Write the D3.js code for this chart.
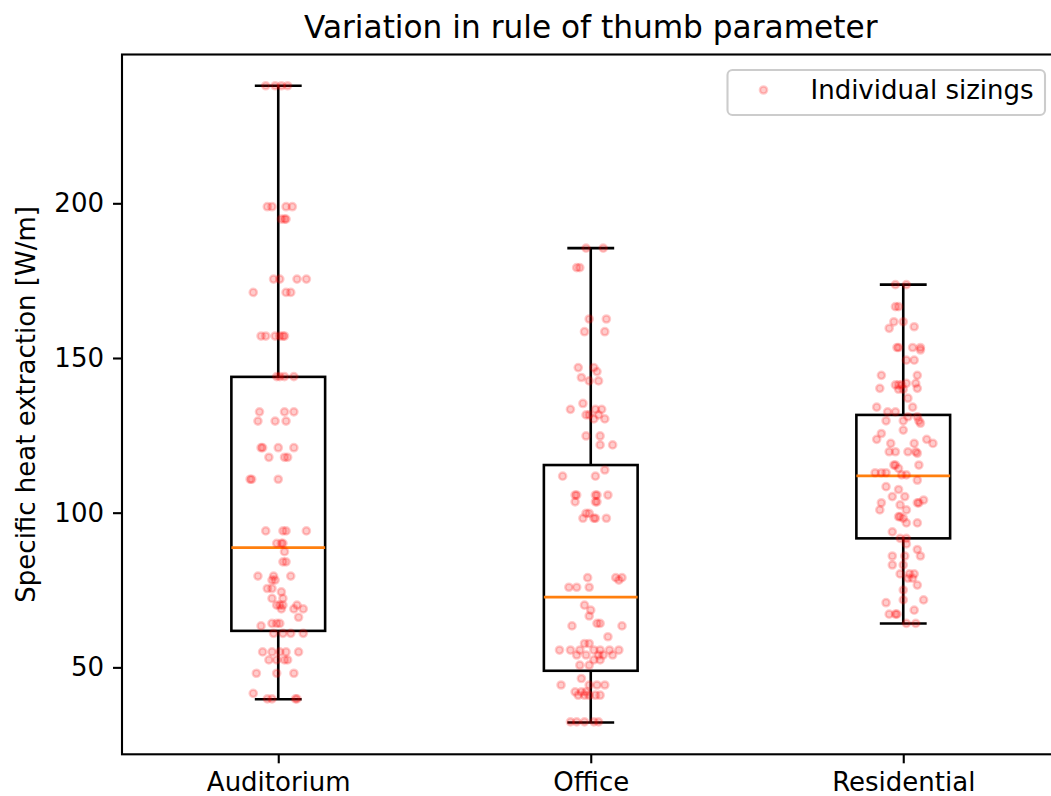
<!DOCTYPE html>
<html>
<head>
<meta charset="utf-8">
<script src="https://cdn.jsdelivr.net/npm/d3@7"></script>
<style>
  body { margin: 0; background: #fff; }
  text { font-family: "DejaVu Sans", sans-serif; fill: #000; }
</style>
</head>
<body>
<div id="graph"></div>
<script>
var svgWidth = 1051;
var svgHeight = 796;

var categories = ["Auditorium", "Office", "Residential"];
var yTicks = [50, 100, 150, 200];

// box stats: [whiskerLow, q1, median, q3, whiskerHigh]
var auditoriumBox = [39.7, 61.8, 88.7, 143.9, 238.0];
var officeBox = [32.2, 48.9, 72.7, 115.4, 185.5];
var residentialBox = [64.2, 91.7, 111.9, 131.6, 173.7];

// individual sizings: [value, horizontal jitter in category units]
var auditoriumPts = [
  [238,-0.04],[238,-0.01],[238,0.01],[238,0.03],
  [198.9,-0.035],[198.9,-0.02],[198.9,0.025],[198.9,0.045],
  [194.9,0.01],[194.9,0.02],[194.9,0.025],
  [175.5,-0.015],[175.5,0.005],[175.5,0.06],[175.5,0.09],
  [171.2,-0.08],[171.2,0.025],[171.2,0.04],
  [157.1,-0.055],[157.1,-0.04],[157.1,-0.01],[157.1,0.005],[157.1,0.015],[157.1,0.02],
  [144,-0.005],[144,0.005],[144,0.02],[144,0.05],
  [132.6,-0.06],[132.6,0.02],[132.6,0.05],
  [129.6,-0.065],[129.6,-0.01],[129.6,0.025],
  [121,-0.055],[121,-0.05],[121,0],[121,0.05],
  [117.9,-0.03],[117.9,0.02],[117.9,0.03],
  [110.8,-0.09],[110.8,-0.085],[110.8,0],
  [94.1,-0.04],[94.1,0.015],[94.1,0.025],[94.1,0.09],
  [90.1,-0.005],[90.1,0.01],[90.1,0.015],
  [87.4,0.02],[84.1,0.015],[84.1,0.025],
  [79.5,-0.065],[79.5,-0.015],[79.5,0.04],
  [78.2,-0.02],[78.2,-0.01],[75.5,-0.035],[75.5,-0.02],[74.4,0.01],
  [72.3,-0.02],[72.3,0.015],
  [70.1,-0.005],[70.1,0.005],[70.1,0.015],[70.1,0.06],
  [68.9,0.01],[68.9,0.05],[68.9,0.08],[66.2,0.065],
  [64.2,-0.02],[64.2,-0.005],[64.2,0.005],[63.4,-0.055],
  [61,-0.015],[61,0.015],[61,0.04],[61,0.08],
  [55,-0.05],[55,-0.02],[55,0.005],[55,0.025],[55,0.065],
  [52.4,-0.03],[52.4,-0.005],[52.4,0.02],[52.4,0.03],
  [48.1,-0.07],[48.1,-0.005],[48.1,0.05],[41.6,-0.08],
  [39.8,-0.035],[39.8,-0.02],[39.8,0.055],[39.8,0.06]
];

var officePts = [
  [185.5,-0.015],[185.5,0.04],
  [179.2,-0.045],[179.2,-0.035],
  [162.6,-0.005],[162.6,0.05],
  [158.5,-0.02],[158.5,0.045],
  [146.9,-0.04],[146.9,0.01],[145.6,0.02],[143.7,-0.03],
  [142.6,-0.005],[142.6,0.025],
  [135.3,-0.025],[133.4,-0.065],[133.4,0.015],[133.4,0.035],
  [131.6,-0.015],[131.6,-0.005],[131.6,0.025],
  [130.3,0.01],[130.3,0.045],
  [124.8,-0.015],[124.8,0.03],
  [121.9,0.03],[121.9,0.07],
  [113.8,0.045],[111.8,-0.09],[111.8,0.015],
  [105.7,-0.05],[105.7,-0.045],[105.7,0.015],[105.7,0.02],[105.7,0.055],
  [103.5,-0.05],[103.5,0.015],[103.5,0.02],
  [99.8,-0.015],[99.8,-0.005],
  [98.2,-0.025],[98.2,0.01],[98.2,0.015],[98.2,0.05],
  [79,-0.01],[79,0.08],[79,0.1],[78.2,0.09],
  [75.9,-0.07],[75.9,-0.045],[75.9,-0.005],
  [70.1,-0.02],[68.5,0],[66.6,-0.005],
  [64.2,0.02],[64.2,0.03],[63.4,-0.06],[63.4,0.1],
  [59.9,0.055],[57.7,-0.02],[57.7,-0.005],
  [55.6,-0.1],[55.6,-0.065],[55.6,-0.035],[55.6,0.01],[55.6,0.03],[55.6,0.06],[55.6,0.09],
  [54,-0.045],[54,-0.015],[54,0.025],[54,0.04],[54,0.07],
  [52.4,0.01],[52.4,0.03],[50.7,-0.035],[50.7,-0.005],
  [46.4,-0.03],
  [44.3,-0.095],[44.3,-0.005],[44.3,0.02],[44.3,0.045],
  [42.1,-0.05],[42.1,-0.03],[42.1,-0.015],
  [41,-0.04],[41,-0.02],[41,-0.005],[41,0.015],[41,0.03],
  [32.4,-0.065],[32.4,-0.045],[32.4,-0.02],[32.4,0.01],[32.4,0.025]
];

var residentialPts = [
  [173.7,-0.025],[173.7,0.01],
  [166.6,-0.025],[166.6,-0.015],
  [161.7,-0.03],[161.7,0],[160.1,0.035],[159.6,-0.045],
  [153.4,-0.02],[153.4,-0.015],[153.4,0.03],[153.4,0.055],[152.6,0.055],
  [149.3,0.01],[149.3,0.035],
  [144.4,-0.07],[144.4,0.045],
  [141.8,0.01],[141.8,0.04],
  [141.3,-0.025],[141.3,-0.015],[141.3,-0.005],
  [140.2,-0.075],[140.2,0.045],[139.9,-0.015],[139.9,0],
  [137,0.015],[134.1,-0.085],[134.1,0.03],
  [132.6,-0.05],[132.6,-0.025],
  [131,0.015],[131,0.045],
  [129.7,-0.055],[129.7,0],[129.7,0.05],[128.9,0.055],
  [126.7,0],[125.6,-0.07],[123.7,-0.085],[123.7,0.075],
  [122.4,-0.04],[122.4,0.035],[122.4,0.095],
  [119.7,-0.045],[119.7,-0.025],[119.7,0.015],[119.7,0.04],[119.2,0.045],
  [115.4,-0.03],[115.4,-0.025],[115.4,0.05],[114.3,-0.015],
  [112.9,-0.09],[112.9,-0.07],[112.9,-0.055],
  [112.2,-0.005],[112.2,0.01],
  [110.5,0.045],[108.4,-0.055],[107.5,-0.015],
  [105.2,-0.035],[105.2,0.005],[104.1,0.065],
  [103.2,-0.07],[103.2,0.045],[103.2,0.05],[102.5,-0.01],
  [100.9,-0.075],[100.9,0.01],
  [98.7,-0.015],[98.7,-0.01],[98.2,0],
  [96.7,0.01],[96.7,0.045],
  [93.8,-0.035],[91.7,-0.01],[91.7,0.01],[89.9,0.01],[88.1,0.045],
  [86,-0.035],[86,0.005],[86,0.055],
  [83.1,-0.035],[83.1,0],
  [80.2,-0.01],[80.2,0.02],[80.2,0.035],
  [78.8,0.015],[78.8,0.03],[76.6,0.045],[75,0],
  [71.8,0],[71.8,0.065],[70.9,-0.055],[68.5,0.035],
  [67.2,-0.045],[67.2,-0.025],[67.2,-0.02],
  [64.2,0.01],[64.2,0.04]
];

var boxes = [auditoriumBox, officeBox, residentialBox];
var points = [auditoriumPts, officePts, residentialPts];

var margin = { top: 54.5, right: -8.5, bottom: 41.7, left: 122 };
var width = svgWidth - margin.left - margin.right;
var height = svgHeight - margin.top - margin.bottom;

var svg = d3.select("#graph")
  .append("svg")
  .attr("width", svgWidth)
  .attr("height", svgHeight);

var chartGroup = svg.append("g")
  .attr("transform", `translate(${margin.left}, ${margin.top})`);

var xScale = d3.scaleLinear().domain([0.5, 3.5]).range([0, width]);
var yScale = d3.scaleLinear().domain([21.9, 248.1]).range([height, 0]);

var lw = 2.6;
var boxHalf = 0.15, capHalf = 0.075;

// boxes + whiskers
boxes.forEach(function(b, i) {
  var pos = i + 1;
  var g = chartGroup.append("g");
  g.append("rect")
    .attr("x", xScale(pos - boxHalf))
    .attr("y", yScale(b[3]))
    .attr("width", xScale(pos + boxHalf) - xScale(pos - boxHalf))
    .attr("height", yScale(b[1]) - yScale(b[3]))
    .attr("fill", "none")
    .attr("stroke", "#000")
    .attr("stroke-width", lw);
  [[b[0], b[1]], [b[3], b[4]]].forEach(function(w) {
    g.append("line")
      .attr("x1", xScale(pos)).attr("x2", xScale(pos))
      .attr("y1", yScale(w[0])).attr("y2", yScale(w[1]))
      .attr("stroke", "#000").attr("stroke-width", lw);
  });
  [b[0], b[4]].forEach(function(c) {
    g.append("line")
      .attr("x1", xScale(pos - capHalf)).attr("x2", xScale(pos + capHalf))
      .attr("y1", yScale(c)).attr("y2", yScale(c))
      .attr("stroke", "#000").attr("stroke-width", lw);
  });
  g.append("line")
    .attr("x1", xScale(pos - boxHalf)).attr("x2", xScale(pos + boxHalf))
    .attr("y1", yScale(b[2])).attr("y2", yScale(b[2]))
    .attr("stroke", "#ff7f0e").attr("stroke-width", lw);
});

// scatter of individual sizings
points.forEach(function(pts, i) {
  chartGroup.append("g").selectAll("circle")
    .data(pts)
    .enter()
    .append("circle")
    .attr("cx", d => xScale(i + 1 + d[1]))
    .attr("cy", d => yScale(d[0]))
    .attr("r", 3.6)
    .attr("fill", "red")
    .attr("fill-opacity", 0.2)
    .attr("stroke", "red")
    .attr("stroke-opacity", 0.2)
    .attr("stroke-width", 2.5);
});

// axes
var yAxis = d3.axisLeft(yScale).tickValues(yTicks).tickSize(9).tickPadding(9);
var xAxis = d3.axisBottom(xScale).tickValues([1, 2, 3])
  .tickFormat(d => categories[d - 1]).tickSize(9).tickPadding(9);

var gy = chartGroup.append("g").call(yAxis);
var gx = chartGroup.append("g").attr("transform", `translate(0, ${height})`).call(xAxis);
[gx, gy].forEach(function(g) {
  g.select(".domain").remove();
  g.selectAll(".tick line").attr("stroke", "#000").attr("stroke-width", 2.1);
  g.selectAll(".tick text").attr("font-size", "26px").attr("font-family", "DejaVu Sans").attr("fill", "#000");
});

// spines
chartGroup.append("rect")
  .attr("x", 0).attr("y", 0)
  .attr("width", width).attr("height", height)
  .attr("fill", "none")
  .attr("stroke", "#000")
  .attr("stroke-width", 2.1);

// title & labels
svg.append("text")
  .attr("x", margin.left + width / 2)
  .attr("y", 38)
  .attr("text-anchor", "middle")
  .attr("font-size", "31.2px")
  .text("Variation in rule of thumb parameter");

svg.append("text")
  .attr("transform", `translate(35, ${margin.top + height / 2}) rotate(-90)`)
  .attr("text-anchor", "middle")
  .attr("font-size", "26px")
  .text("Specific heat extraction [W/m]");

// legend
var legend = svg.append("g");
legend.append("rect")
  .attr("x", 727.5).attr("y", 70)
  .attr("width", 317.5).attr("height", 45)
  .attr("rx", 5)
  .attr("fill", "#fff").attr("fill-opacity", 0.8)
  .attr("stroke", "#cccccc").attr("stroke-width", 2.1);
legend.append("circle")
  .attr("cx", 763.5).attr("cy", 90)
  .attr("r", 3.6)
  .attr("fill", "red").attr("fill-opacity", 0.2)
  .attr("stroke", "red").attr("stroke-opacity", 0.2)
  .attr("stroke-width", 2.5);
legend.append("text")
  .attr("x", 810.5).attr("y", 99)
  .attr("font-size", "26px")
  .text("Individual sizings");
</script>
</body>
</html>
